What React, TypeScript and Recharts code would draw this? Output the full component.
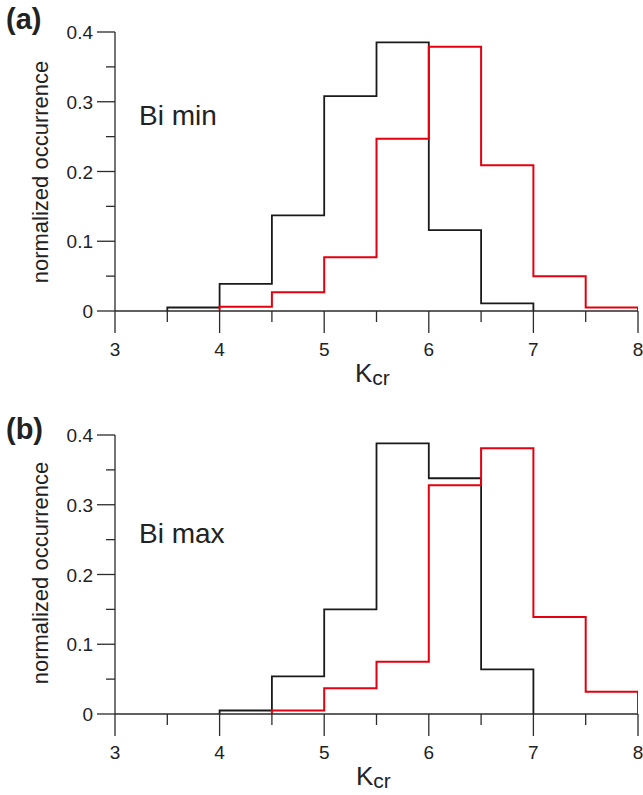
import React from 'react';
import { ComposedChart, Line, XAxis, YAxis } from 'recharts';

// Panel (a) "Bi min"
const edgesA_black = [3.5, 4, 4.5, 5, 5.5, 6, 6.5, 7];
const valuesA_black = [0.005, 0.039, 0.137, 0.308, 0.385, 0.116, 0.011];
const edgesA_red = [4, 4.5, 5, 5.5, 6, 6.5, 7, 7.5, 8];
const valuesA_red = [0.006, 0.027, 0.077, 0.247, 0.379, 0.209, 0.05, 0.005];

// Panel (b) "Bi max"
const edgesB_black = [4, 4.5, 5, 5.5, 6, 6.5, 7];
const valuesB_black = [0.005, 0.054, 0.15, 0.388, 0.338, 0.064];
const edgesB_red = [4.5, 5, 5.5, 6, 6.5, 7, 7.5, 8];
const valuesB_red = [0.005, 0.037, 0.075, 0.328, 0.381, 0.139, 0.032];

const xTicks = [3, 3.5, 4, 4.5, 5, 5.5, 6, 6.5, 7, 7.5, 8];
const yTicks = [0, 0.05, 0.1, 0.15, 0.2, 0.25, 0.3, 0.35, 0.4];

const FONT = '"Liberation Sans", Arial, Helvetica, sans-serif';
const AXIS = '#2b2b2b';
const BLACK = '#1a1a1a';
const RED = '#e4000f';

function toSteps(edges: number[], vals: number[]) {
  const pts = [{ x: edges[0], y: 0 }];
  vals.forEach((v, i) => pts.push({ x: edges[i], y: v }));
  pts.push({ x: edges[edges.length - 1], y: 0 });
  return pts;
}

const XTick = (props: any) => {
  const { x, y, payload } = props;
  const v = payload.value as number;
  const major = Math.abs(v - Math.round(v)) < 1e-6;
  return (
    <g>
      <line x1={x} y1={y} x2={x} y2={y + (major ? 22 : 11)} stroke={AXIS} strokeWidth={1.3} />
      {major && (
        <text x={x} y={y + 45} textAnchor="middle" fontSize={19} fill="#222" fontFamily={FONT}>
          {v}
        </text>
      )}
    </g>
  );
};

const YTick = (props: any) => {
  const { x, y, payload } = props;
  const v = payload.value as number;
  const major = Math.abs(v * 10 - Math.round(v * 10)) < 1e-6;
  return (
    <g>
      <line x1={x - (major ? 18 : 9)} y1={y} x2={x} y2={y} stroke={AXIS} strokeWidth={1.3} />
      {major && (
        <text x={x - 22} y={y + 7} textAnchor="end" fontSize={19} fill="#222" fontFamily={FONT}>
          {v === 0 ? '0' : v.toFixed(1)}
        </text>
      )}
    </g>
  );
};

function Panel(props: {
  top: number;
  height: number;
  marginTop: number;
  marginBottom: number;
  black: { x: number; y: number }[];
  red: { x: number; y: number }[];
}) {
  const { top, height, marginTop, marginBottom, black, red } = props;
  return (
    <div style={{ position: 'absolute', left: 0, top, width: 643, height }}>
      <ComposedChart
        width={643}
        height={height}
        margin={{ top: marginTop, right: 5, bottom: marginBottom, left: 55 }}
      >
        <XAxis
          dataKey="x"
          type="number"
          domain={[3, 8]}
          ticks={xTicks}
          interval={0}
          allowDataOverflow
          height={40}
          tickSize={0}
          tickMargin={0}
          tickLine={false}
          axisLine={{ stroke: AXIS, strokeWidth: 1.3 }}
          tick={<XTick />}
        />
        <YAxis
          type="number"
          domain={[0, 0.4]}
          ticks={yTicks}
          interval={0}
          allowDataOverflow
          width={60}
          tickSize={0}
          tickMargin={0}
          tickLine={false}
          axisLine={{ stroke: AXIS, strokeWidth: 1.3 }}
          tick={<YTick />}
        />
        <Line
          data={black}
          dataKey="y"
          type="stepAfter"
          stroke={BLACK}
          strokeWidth={1.8}
          dot={false}
          activeDot={false}
          isAnimationActive={false}
        />
        <Line
          data={red}
          dataKey="y"
          type="stepAfter"
          stroke={RED}
          strokeWidth={2}
          dot={false}
          activeDot={false}
          isAnimationActive={false}
        />
      </ComposedChart>
    </div>
  );
}

export default function App() {
  return (
    <div
      style={{
        position: 'absolute',
        left: 0,
        top: 0,
        width: 643,
        height: 795,
        background: '#fff',
        fontFamily: FONT,
      }}
    >
      <Panel
        top={0}
        height={390}
        marginTop={32}
        marginBottom={39}
        black={toSteps(edgesA_black, valuesA_black)}
        red={toSteps(edgesA_red, valuesA_red)}
      />
      <Panel
        top={400}
        height={395}
        marginTop={35}
        marginBottom={41}
        black={toSteps(edgesB_black, valuesB_black)}
        red={toSteps(edgesB_red, valuesB_red)}
      />
      <svg
        width={643}
        height={795}
        style={{ position: 'absolute', left: 0, top: 0, pointerEvents: 'none' }}
        fontFamily={FONT}
      >
        <text x={6} y={29} fontSize={29} fontWeight="bold" fill="#222">(a)</text>
        <text x={6} y={439} fontSize={29} fontWeight="bold" fill="#222">(b)</text>
        <text x={139} y={125} fontSize={28} fill="#222">Bi min</text>
        <text x={139} y={543} fontSize={28} fill="#222">Bi max</text>
        <text transform="translate(48,172) rotate(-90)" textAnchor="middle" fontSize={22} fill="#222">
          normalized occurrence
        </text>
        <text transform="translate(48,573) rotate(-90)" textAnchor="middle" fontSize={22} fill="#222">
          normalized occurrence
        </text>
        <text x={355} y={382} fontSize={26} fill="#222">
          K<tspan fontSize={21} dy={3}>cr</tspan>
        </text>
        <text x={356} y={785} fontSize={26} fill="#222">
          K<tspan fontSize={21} dy={3}>cr</tspan>
        </text>
      </svg>
    </div>
  );
}
